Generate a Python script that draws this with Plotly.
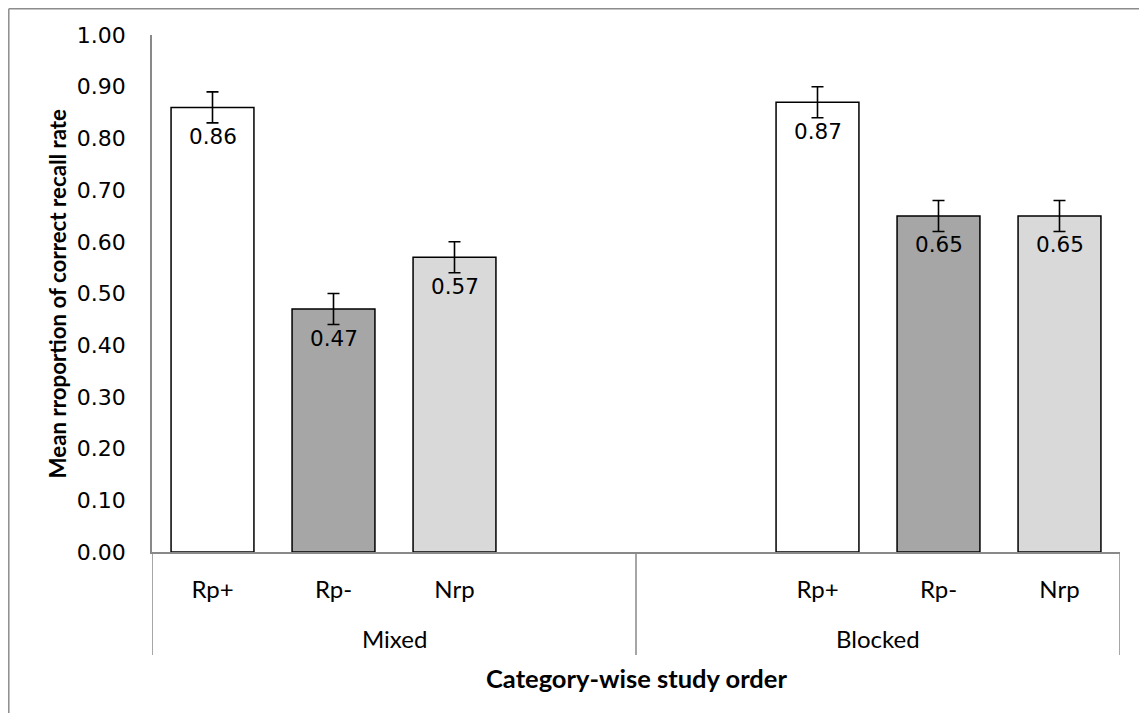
import plotly.graph_objects as go

# ---- data ----
groups = ["Mixed", "Mixed", "Mixed", "Mixed", "Blocked", "Blocked", "Blocked", "Blocked"]
slots = ["Rp+", "Rp-", "Nrp", "", "", "Rp+", "Rp-", "Nrp"]
conditions = ["Rp+", "Rp-", "Nrp"]
mixed_vals = [0.86, 0.47, 0.57]
blocked_vals = [0.87, 0.65, 0.65]
mixed_err = [0.03, 0.03, 0.03]
blocked_err = [0.03, 0.03, 0.03]
colors = {"Rp+": "#FFFFFF", "Rp-": "#A6A6A6", "Nrp": "#D9D9D9"}
y_title = "Mean rroportion of correct recall rate"
x_title = "Category-wise study order"

# ---- layout constants (figure pixels; page has an 8px body margin) ----
OFF = 8
W, H = 1147 - 2 * OFF, 721 - 2 * OFF
L, T = 152 - OFF, 35 - OFF
R = W - (1120 - OFF)
B = H - (552 - OFF)
PW, PH = W - L - R, H - T - B


def px_x(p):  # page pixel -> paper x
    return (p - OFF - L) / PW


def px_y(p):  # page pixel -> paper y
    return (H - B - (p - OFF)) / PH


# positions of slots along the numeric axis
pos = {}
for i, (g, s) in enumerate(zip(groups, slots)):
    if s:
        pos[(g, s)] = i

fig = go.Figure()
for g, vals, errs in [("Mixed", mixed_vals, mixed_err), ("Blocked", blocked_vals, blocked_err)]:
    xs = [pos[(g, c)] for c in conditions]
    fig.add_trace(go.Bar(
        x=xs, y=vals, width=0.685,
        marker=dict(color=[colors[c] for c in conditions], line=dict(color="black", width=1.5)),
        error_y=dict(type="data", array=errs, visible=True, color="black", thickness=1.6, width=6),
        showlegend=False, hoverinfo="skip",
    ))
    for x, v in zip(xs, vals):
        fig.add_annotation(x=x, y=v, xref="x", yref="y", text=f"{v:.2f}", showarrow=False,
                           yanchor="middle", yshift=-29,
                           font=dict(family="DejaVu Sans", size=21.5, color="black"))

tick_pos = [i for i, s in enumerate(slots) if s]
tick_txt = [s for s in slots if s]

fig.update_xaxes(range=[-0.5, len(slots) - 0.5], tickmode="array", tickvals=tick_pos, ticktext=tick_txt,
                 showline=True, linecolor="#898989", linewidth=1.5, showgrid=False, zeroline=False,
                 ticks="", ticklabelstandoff=15,
                 tickfont=dict(family="Lato", size=24, color="black"))
fig.update_yaxes(range=[0, 1], dtick=0.1, tickformat=".2f", showline=True, linecolor="#898989", linewidth=1.5,
                 showgrid=False, zeroline=False, ticks="", ticklabelstandoff=20,
                 tickfont=dict(family="DejaVu Sans", size=22, color="black"))

# group labels
for g in ["Mixed", "Blocked"]:
    idx = [i for i, gg in enumerate(groups) if gg == g]
    fig.add_annotation(x=(idx[0] + idx[-1]) / 2, y=px_y(638), xref="x", yref="paper", text=g,
                       showarrow=False, yanchor="middle",
                       font=dict(family="Lato", size=24, color="black"))

# group dividers
bounds = [-0.5] + [i + 0.5 for i in range(len(groups) - 1) if groups[i] != groups[i + 1]] + [len(groups) - 0.5]
for b in bounds:
    fig.add_shape(type="line", x0=b, x1=b, xref="x", yref="paper", y0=0, y1=px_y(655),
                  line=dict(color="#898989", width=1.5))

# axis titles
fig.add_annotation(x=0.5, y=px_y(678), xref="paper", yref="paper", text=f"<b>{x_title}</b>",
                   showarrow=False, yanchor="middle",
                   font=dict(family="Lato", size=25.5, color="black"))
fig.add_annotation(x=px_x(57), y=0.5, xref="paper", yref="paper", text=f"<b>{y_title}</b>",
                   showarrow=False, textangle=-90, xanchor="center", yanchor="middle",
                   font=dict(family="Lato", size=22.3, color="black"))

# outer chart border: only the left and top edges are inside the page
fig.add_shape(type="line", xref="paper", yref="paper", x0=px_x(8.8), x1=px_x(8.8), y0=px_y(721), y1=px_y(8.8),
              line=dict(color="#8C8C8C", width=1.5), layer="below")
fig.add_shape(type="line", xref="paper", yref="paper", x0=px_x(8.8), x1=px_x(1147), y0=px_y(8.8), y1=px_y(8.8),
              line=dict(color="#8C8C8C", width=1.5), layer="below")

fig.update_layout(width=W, height=H, margin=dict(l=L, r=R, t=T, b=B, autoexpand=False),
                  plot_bgcolor="white", paper_bgcolor="white", bargap=0.3)

fig.write_html("out.html")
